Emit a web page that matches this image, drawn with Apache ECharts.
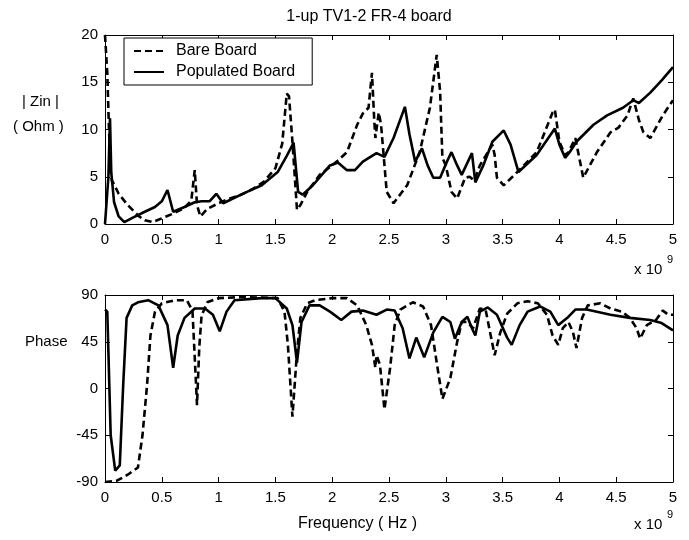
<!DOCTYPE html>
<html>
<head>
<meta charset="utf-8">
<script src="https://cdn.jsdelivr.net/npm/echarts@6/dist/echarts.min.js"></script>
<style>
html,body{margin:0;padding:0;background:#fff;}
#chart{width:689px;height:540px;}
</style>
</head>
<body>
<div id="chart"></div>
<script>
// ---- Data (frequency in GHz, i.e. x 10^9 Hz) ----
const freqTicks = ['0','0.5','1','1.5','2','2.5','3','3.5','4','4.5','5'];
const zinTicks = [0, 5, 10, 15, 20];
const phaseTicks = [-90, -45, 0, 45, 90];

const bareZFreq = [0,0.02,0.035,0.05,0.06,0.08,0.12,0.2,0.3,0.35,0.42,0.5,0.6,0.7,0.76,0.79,0.81,0.84,0.9,1.0,1.1,1.2,1.3,1.4,1.5,1.56,1.6,1.62,1.65,1.69,1.72,1.78,1.89,2.04,2.13,2.22,2.27,2.32,2.35,2.37,2.38,2.41,2.43,2.48,2.54,2.66,2.77,2.86,2.92,2.95,2.97,3.0,3.05,3.1,3.17,3.21,3.25,3.3,3.41,3.43,3.45,3.51,3.63,3.8,3.94,3.96,4.0,4.05,4.08,4.14,4.21,4.33,4.45,4.52,4.6,4.65,4.7,4.74,4.8,4.91,5.0];
const bareZ     = [20,16,10,5.5,4.6,4.2,3.2,2.0,0.8,0.4,0.2,0.6,1.1,1.7,2.5,5.7,2.0,0.8,1.6,2.2,2.7,3.1,3.7,4.5,5.9,8.5,13.8,13.5,8.7,1.5,2.0,3.4,5.2,6.6,7.6,10.5,11.7,12.3,16.0,11,9.1,11.8,10.5,3.4,2.2,4.1,7.6,12.3,17.9,14,7.0,6.2,3.4,2.7,4.9,5.0,4.6,6.2,8.4,7.3,4.9,4.1,5.5,7.6,11.8,12.1,8.7,7.3,7.6,9.1,4.9,7.6,9.7,10.2,11.5,13.3,11,9.7,9.1,11.5,13.1];

const popZFreq = [0,0.03,0.044,0.055,0.08,0.12,0.17,0.25,0.35,0.44,0.5,0.55,0.6,0.7,0.79,0.85,0.92,0.98,1.04,1.23,1.38,1.52,1.6,1.66,1.7,1.74,1.83,1.98,2.05,2.13,2.2,2.27,2.39,2.46,2.54,2.64,2.68,2.73,2.79,2.84,2.89,2.95,3.01,3.05,3.1,3.14,3.23,3.26,3.33,3.41,3.51,3.57,3.64,3.8,3.96,4.0,4.05,4.09,4.15,4.3,4.42,4.56,4.65,4.7,4.8,4.9,5.0];
const popZ     = [0,5,11.2,5.5,2.3,0.8,0.2,0.7,1.3,1.8,2.4,3.6,1.3,1.8,2.3,2.4,2.4,3.2,2.2,3.3,4.1,5.5,7.2,8.6,3.4,3.1,4.1,6.2,6.5,5.7,5.7,6.6,7.5,7.1,9.1,12.4,9.5,6.6,8.0,6.2,4.9,4.9,6.6,7.6,6.2,5.2,7.5,4.4,6.2,8.7,9.9,8.4,5.5,7.3,10.1,8.4,7.0,7.6,8.7,10.5,11.5,12.3,13.1,12.8,13.9,15.2,16.6];

const barePhFreq = [0,0.1,0.2,0.29,0.33,0.37,0.4,0.44,0.5,0.62,0.72,0.77,0.79,0.81,0.83,0.85,0.9,1.0,1.2,1.52,1.58,1.61,1.65,1.69,1.72,1.78,1.85,2.0,2.13,2.22,2.3,2.35,2.38,2.39,2.42,2.46,2.51,2.55,2.6,2.71,2.8,2.87,2.92,2.97,3.04,3.1,3.14,3.19,3.24,3.3,3.35,3.39,3.43,3.48,3.54,3.63,3.72,3.81,3.89,3.94,3.99,4.03,4.08,4.12,4.15,4.2,4.25,4.36,4.45,4.55,4.62,4.68,4.71,4.77,4.85,4.91,4.96,5.0];
const barePh     = [-90,-89,-83,-76,-45,3,51,74,82,85,85,75,30,-16,40,70,83,87,88,87,74,42,-27,35,68,82,85,87,87,80,61,42,20,32,23,-20,20,61,76,83,79,61,25,-10,10,45,64,64,58,77,76,54,32,54,72,82,84,82,71,51,42,58,64,54,39,68,80,82,77,74,68,58,48,61,66,75,71,71];

const popPhFreq = [0,0.02,0.03,0.05,0.09,0.13,0.16,0.19,0.24,0.29,0.38,0.47,0.55,0.6,0.64,0.7,0.79,0.88,0.95,1.01,1.07,1.14,1.38,1.5,1.6,1.65,1.69,1.73,1.8,1.89,1.98,2.08,2.17,2.27,2.39,2.48,2.55,2.62,2.68,2.74,2.81,2.89,2.97,3.04,3.08,3.14,3.19,3.23,3.26,3.3,3.37,3.45,3.54,3.58,3.65,3.72,3.83,3.92,3.99,4.07,4.14,4.24,4.45,4.62,4.8,4.9,5.0];
const popPh     = [76,74,35,-45,-79,-74,3,68,80,83,85,80,61,20,51,68,77,77,71,55,74,85,87,87,77,61,25,64,80,80,74,66,74,75,71,76,75,58,29,49,30,54,69,64,48,64,69,58,51,74,78,71,49,42,61,74,79,74,61,68,76,76,71,68,66,63,56];

const seriesNames = ['Bare Board', 'Populated Board'];

function pairs(xs, ys){ return xs.map((x,i)=>[x, ys[i]]); }

const FONT = '"Liberation Sans", Arial, Helvetica, sans-serif';
const chart = echarts.init(document.getElementById('chart'));

function xAx(grid, top){
  return {
    gridIndex: grid, type:'value', min:0, max:5, interval:0.5,
    position: top ? 'top' : 'bottom',
    axisLine:{show:true, onZero:false, lineStyle:{color:'#000', width:1}},
    axisTick:{show:true, inside:true, length:5, lineStyle:{color:'#000'}},
    axisLabel:{show:!top, color:'#000', fontSize:15, fontFamily:FONT, margin:8,
      formatter:(v)=>freqTicks[Math.round(v*2)]},
    splitLine:{show:false}
  };
}
function yAx(grid, right, ticks){
  return {
    gridIndex: grid, type:'value', min:ticks[0], max:ticks[ticks.length-1],
    interval:ticks[1]-ticks[0],
    position: right ? 'right' : 'left',
    axisLine:{show:true, onZero:false, lineStyle:{color:'#000', width:1}},
    axisTick:{show:true, inside:true, length:5, lineStyle:{color:'#000'}},
    axisLabel:{show:!right, color:'#000', fontSize:15, fontFamily:FONT, margin:7},
    splitLine:{show:false}
  };
}
const dashStyle = {color:'#000', width:2.6, type:[7,4]};
const solidStyle = {color:'#000', width:2.6, type:'solid'};

function ser(name, xi, yi, data, style){
  return {name, type:'line', xAxisIndex:xi, yAxisIndex:yi, data, showSymbol:false, symbol:'none',
    lineStyle:style, itemStyle:{color:'#000'}, animation:false, smooth:false};
}

chart.setOption({
  animation:false,
  backgroundColor:'#fff',
  title:{text:'1-up TV1-2 FR-4 board', left:364, top:4, textAlign:'center',
    textStyle:{fontSize:16, fontWeight:'normal', color:'#000', fontFamily:FONT}},
  grid:[
    {left:105, right:16, top:35, height:189},
    {left:105, right:16, top:295, height:187}
  ],
  xAxis:[xAx(0,false), xAx(0,true), xAx(1,false), xAx(1,true)],
  yAxis:[yAx(0,false,zinTicks), yAx(0,true,zinTicks), yAx(1,false,phaseTicks), yAx(1,true,phaseTicks)],
  legend:{
    data:seriesNames, orient:'vertical', left:124, top:38,
    itemWidth:30, itemHeight:14, itemGap:5,
    padding:[5,17,5,9], borderColor:'#000', borderWidth:1, borderRadius:0,
    backgroundColor:'#fff',
    itemStyle:{opacity:0, borderWidth:0},
    textStyle:{fontSize:16, color:'#000', fontFamily:FONT, padding:[0,0,0,7]}
  },
  series:[
    ser(seriesNames[0], 0, 0, pairs(bareZFreq, bareZ), dashStyle),
    ser(seriesNames[1], 0, 0, pairs(popZFreq, popZ), solidStyle),
    ser(seriesNames[0], 2, 2, pairs(barePhFreq, barePh), dashStyle),
    ser(seriesNames[1], 2, 2, pairs(popPhFreq, popPh), solidStyle)
  ],
  graphic:[
    {type:'text', left:22, top:94, style:{text:'| Zin |', fontSize:15, fontFamily:FONT, fill:'#000'}},
    {type:'text', left:13, top:119, style:{text:'( Ohm )', fontSize:15, fontFamily:FONT, fill:'#000'}},
    {type:'text', left:25, top:334, style:{text:'Phase', fontSize:15, fontFamily:FONT, fill:'#000'}},
    {type:'text', left:634, top:262, style:{text:'x 10', fontSize:15, fontFamily:FONT, fill:'#000'}},
    {type:'text', left:667, top:254, style:{text:'9', fontSize:11, fontFamily:FONT, fill:'#000'}},
    {type:'text', left:634, top:517, style:{text:'x 10', fontSize:15, fontFamily:FONT, fill:'#000'}},
    {type:'text', left:667, top:509, style:{text:'9', fontSize:11, fontFamily:FONT, fill:'#000'}},
    {type:'text', left:298, top:516, style:{text:'Frequency ( Hz )', fontSize:16, fontFamily:FONT, fill:'#000'}}
  ]
});
</script>
</body>
</html>
